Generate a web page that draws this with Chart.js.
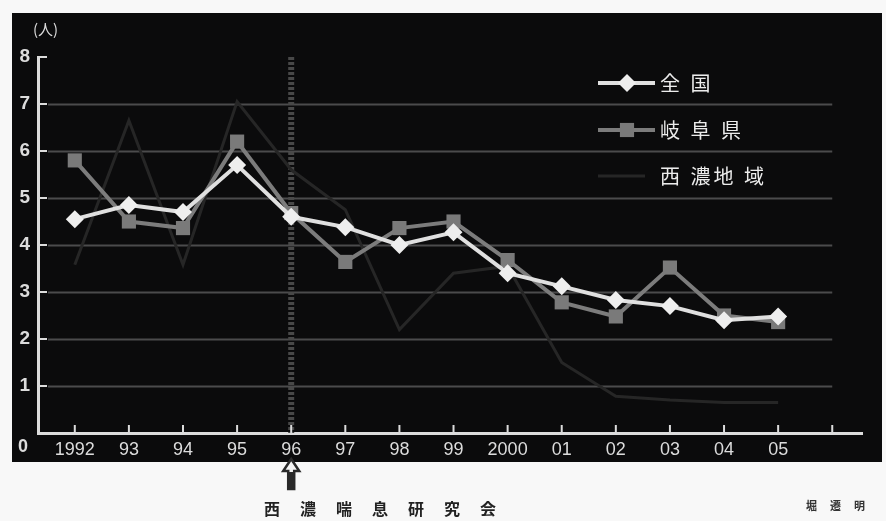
<!DOCTYPE html>
<html>
<head>
<meta charset="utf-8">
<script src="https://cdn.jsdelivr.net/npm/chart.js@4"></script>
<style>
  html, body { margin: 0; padding: 0; background: #f8f8f8; }
  canvas { display: block; }
</style>
</head>
<body>
<canvas id="chart" width="886" height="521"></canvas>
<script>
// years on the x axis (2006 is an empty slot at the end)
const years = [1992, 1993, 1994, 1995, 1996, 1997, 1998, 1999, 2000, 2001, 2002, 2003, 2004, 2005];
const tickYears = [1992, 1993, 1994, 1995, 1996, 1997, 1998, 1999, 2000, 2001, 2002, 2003, 2004, 2005, 2006];
const yearLabels = ['1992', '93', '94', '95', '96', '97', '98', '99', '2000', '01', '02', '03', '04', '05', ''];

// 人 per year
const zenkoku = [4.55, 4.85, 4.7, 5.7, 4.6, 4.38, 4.0, 4.27, 3.4, 3.12, 2.83, 2.7, 2.4, 2.48];
const gifu = [5.8, 4.5, 4.36, 6.2, 4.68, 3.64, 4.36, 4.5, 3.68, 2.78, 2.48, 3.52, 2.5, 2.36];
const seino = [3.58, 6.65, 3.58, 7.05, 5.6, 4.75, 2.2, 3.4, 3.55, 1.5, 0.78, 0.7, 0.65, 0.65];

const seriesNames = ['全 国', '岐 阜 県', '西 濃地 域'];

const toPoints = vals => vals.map((v, i) => ({ x: years[i], y: v }));

const numFont = '"Liberation Sans", Arial, sans-serif';
const jpFont = '"Noto Sans CJK JP", sans-serif';

// panel, grid, markers on the axes, legend and captions
const decor = {
  id: 'decor',
  beforeDraw(chart) {
    const ctx = chart.ctx;
    ctx.save();
    ctx.fillStyle = '#f8f8f8';
    ctx.fillRect(0, 0, chart.width, chart.height);
    ctx.fillStyle = '#0b0b0c';
    ctx.fillRect(12, 13, 870, 449);
    ctx.restore();
  },
  beforeDatasetsDraw(chart) {
    const ctx = chart.ctx;
    const xs = chart.scales.x, ys = chart.scales.y;
    const area = chart.chartArea;
    ctx.save();
    // horizontal grid 1..7
    ctx.strokeStyle = 'rgba(140,140,140,0.5)';
    ctx.lineWidth = 2;
    for (let v = 1; v <= 7; v++) {
      const y = Math.round(ys.getPixelForValue(v)) + 0.5;
      ctx.beginPath();
      ctx.moveTo(area.left + 10, y);
      ctx.lineTo(xs.getPixelForValue(2006), y);
      ctx.stroke();
    }
    // dashed marker at 1996
    const x96 = xs.getPixelForValue(1996);
    ctx.strokeStyle = '#484848';
    ctx.lineWidth = 6;
    ctx.setLineDash([3, 2]);
    ctx.beginPath();
    ctx.moveTo(x96, ys.getPixelForValue(8));
    ctx.lineTo(x96, area.bottom);
    ctx.stroke();
    ctx.setLineDash([]);
    // inward tick marks
    ctx.strokeStyle = '#dcdcdc';
    ctx.lineWidth = 2;
    for (let v = 0; v <= 8; v++) {
      const y = ys.getPixelForValue(v);
      ctx.beginPath();
      ctx.moveTo(area.left, y);
      ctx.lineTo(area.left + 9, y);
      ctx.stroke();
    }
    tickYears.forEach(t => {
      const x = xs.getPixelForValue(t);
      ctx.beginPath();
      ctx.moveTo(x, area.bottom);
      ctx.lineTo(x, area.bottom - 8);
      ctx.stroke();
    });
    ctx.restore();
  },
  afterDraw(chart) {
    const ctx = chart.ctx;
    const xs = chart.scales.x, ys = chart.scales.y;
    ctx.save();
    // unit and zero label
    ctx.fillStyle = '#dcdcdc';
    ctx.font = '15px ' + jpFont;
    ctx.textBaseline = 'middle';
    ctx.fillText('(人)', 33, 29);
    ctx.font = 'bold 18px ' + numFont;
    ctx.textAlign = 'center';
    ctx.fillText('0', 23, ys.getPixelForValue(0) + 14);

    // legend
    ctx.textAlign = 'left';
    const rows = [83, 130, 176];
    chart.data.datasets.forEach((ds, i) => {
      const y = rows[i];
      ctx.strokeStyle = ds.borderColor;
      ctx.lineWidth = ds.borderWidth;
      ctx.beginPath();
      ctx.moveTo(598, y);
      ctx.lineTo(i === 2 ? 645 : 655, y);
      ctx.stroke();
      if (ds.pointRadius > 0) {
        ctx.fillStyle = ds.pointBackgroundColor;
        const r = ds.pointRadius;
        if (ds.pointStyle === 'rectRot') {
          ctx.beginPath();
          ctx.moveTo(627, y - r);
          ctx.lineTo(627 + r, y);
          ctx.lineTo(627, y + r);
          ctx.lineTo(627 - r, y);
          ctx.closePath();
          ctx.fill();
        } else {
          const s = r * Math.SQRT1_2;
          ctx.fillRect(627 - s, y - s, 2 * s, 2 * s);
        }
      }
      ctx.fillStyle = '#ececec';
      ctx.font = '20px ' + jpFont;
      ctx.letterSpacing = '3px';
      ctx.fillText(ds.label, 660, y);
      ctx.letterSpacing = '0px';
    });

    // arrow under 1996
    const ax = xs.getPixelForValue(1996);
    ctx.fillStyle = '#f5f5f5';
    ctx.strokeStyle = '#2a2a2a';
    ctx.lineWidth = 2.5;
    ctx.beginPath();
    ctx.moveTo(ax, 459);
    ctx.lineTo(ax + 8, 471);
    ctx.lineTo(ax + 3, 471);
    ctx.lineTo(ax + 3, 489);
    ctx.lineTo(ax - 3, 489);
    ctx.lineTo(ax - 3, 471);
    ctx.lineTo(ax - 8, 471);
    ctx.closePath();
    ctx.fill();
    ctx.stroke();
    ctx.fillStyle = '#2a2a2a';
    ctx.fillRect(ax - 3, 472, 6, 17);

    // captions
    ctx.fillStyle = '#222';
    ctx.font = 'bold 16px ' + jpFont;
    ctx.letterSpacing = '2px';
    ctx.fillText('西　濃　喘　息　研　究　会', 264, 509);
    ctx.fillStyle = '#333';
    ctx.font = 'bold 11px ' + jpFont;
    ctx.letterSpacing = '1px';
    ctx.fillText('堀　遷　明', 806, 506);
    ctx.restore();
  }
};

new Chart(document.getElementById('chart'), {
  type: 'line',
  data: {
    datasets: [
      {
        label: seriesNames[0],
        data: toPoints(zenkoku),
        borderColor: '#e0e0e0',
        borderWidth: 4,
        pointStyle: 'rectRot',
        pointRadius: 9,
        pointBackgroundColor: '#eeeeee',
        pointBorderWidth: 0,
        tension: 0
      },
      {
        label: seriesNames[1],
        data: toPoints(gifu),
        borderColor: '#7c7c7c',
        borderWidth: 4,
        pointStyle: 'rect',
        pointRadius: 10,
        pointBackgroundColor: '#7a7a7a',
        pointBorderWidth: 0,
        tension: 0
      },
      {
        label: seriesNames[2],
        data: toPoints(seino),
        borderColor: '#262626',
        borderWidth: 3,
        pointRadius: 0,
        tension: 0
      }
    ]
  },
  options: {
    responsive: false,
    animation: false,
    layout: { padding: { top: 57, right: 24, left: 0, bottom: 0 } },
    plugins: {
      legend: { display: false },
      tooltip: { enabled: false }
    },
    scales: {
      x: {
        type: 'linear',
        min: 1991.32,
        max: 2006.55,
        afterBuildTicks: scale => { scale.ticks = tickYears.map(v => ({ value: v })); },
        afterFit: scale => { scale.height = 88; },
        grid: { display: false, drawTicks: false },
        border: { display: true, color: '#dcdcdc', width: 3 },
        ticks: {
          autoSkip: false,
          maxRotation: 0,
          padding: 6,
          color: '#dcdcdc',
          font: { family: numFont, size: 18 },
          callback: v => yearLabels[tickYears.indexOf(v)]
        }
      },
      y: {
        min: 0,
        max: 8,
        afterFit: scale => { scale.width = 38; },
        grid: { display: false, drawTicks: false },
        border: { display: true, color: '#dcdcdc', width: 3 },
        ticks: {
          stepSize: 1,
          padding: 8,
          color: '#dcdcdc',
          font: { family: numFont, size: 19, weight: 'bold' },
          callback: v => (v === 0 ? '' : v)
        }
      }
    }
  },
  plugins: [decor]
});
</script>
</body>
</html>
